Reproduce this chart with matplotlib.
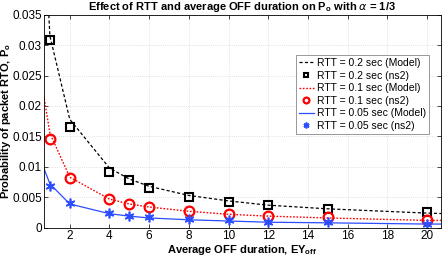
import matplotlib

matplotlib.use("Agg")
import matplotlib.pyplot as plt
from matplotlib.ticker import FixedLocator, FuncFormatter

plt.rcParams.update(
    {
        "font.family": ["Liberation Sans", "DejaVu Sans"],
        "mathtext.fontset": "custom",
        "mathtext.rm": "Liberation Sans",
        "mathtext.bf": "Liberation Sans:bold",
        "axes.linewidth": 0.6,
    }
)

# ns2 simulation points
x_sim = [1, 2, 4, 5, 6, 8, 10, 12, 15, 20]
sim_200 = [0.0308, 0.0165, 0.0092, 0.0078, 0.0065, 0.0051, 0.0043, 0.0037, 0.0031, 0.0025]
sim_100 = [0.0145, 0.0081, 0.0047, 0.0039, 0.0034, 0.0027, 0.0023, 0.0020, 0.0017, 0.0013]
sim_050 = [0.0069, 0.0040, 0.0024, 0.0020, 0.0017, 0.0014, 0.0012, 0.0010, 0.0009, 0.0006]

# model curves
x_model = [0.5, 1, 2, 4, 5, 6, 8, 10, 12, 15, 20, 21]
model_200 = [0.062, 0.0315, 0.0178, 0.0098, 0.0080, 0.0068, 0.0053, 0.0044, 0.0037, 0.0031, 0.0024, 0.0023]
model_100 = [0.0255, 0.0155, 0.0083, 0.0047, 0.0039, 0.0034, 0.0027, 0.0022, 0.0019, 0.0016, 0.0012, 0.0012]
model_050 = [0.0114, 0.0072, 0.0039, 0.0023, 0.0019, 0.0016, 0.0013, 0.0011, 0.0009, 0.0008, 0.0006, 0.0006]

x_ticks = [2, 4, 6, 8, 10, 12, 14, 16, 18, 20]
y_ticks = [0, 0.005, 0.01, 0.015, 0.02, 0.025, 0.03, 0.035]

BLUE = "#2b4cff"
ASTERISK = (6, 2, 0)

fig = plt.figure(figsize=(4.44, 2.57), dpi=100)
ax = fig.add_axes([0.099, 0.114, 0.894, 0.829])

ax.plot(x_model, model_200, color="black", lw=0.9, ls=(0, (2.5, 1.8)), label="RTT = 0.2 sec (Model)")
ax.plot(x_sim, sim_200, ls="none", marker="s", ms=6, mfc="none", mec="black", mew=1.5,
        label="RTT = 0.2 sec (ns2)")
ax.plot(x_model, model_100, color="red", lw=1.0, ls=(0, (1.2, 1.2)), label="RTT = 0.1 sec (Model)")
ax.plot(x_sim, sim_100, ls="none", marker="o", ms=7, mfc="none", mec="red", mew=1.6,
        label="RTT = 0.1 sec (ns2)")
ax.plot(x_model, model_050, color=BLUE, lw=0.9, ls="-", label="RTT = 0.05 sec (Model)")
ax.plot(x_sim, sim_050, ls="none", marker=ASTERISK, ms=7, mec=BLUE, mew=1.2,
        label="RTT = 0.05 sec (ns2)")

ax.set_xlim(0.7, 20.7)
ax.set_ylim(0, 0.035)
ax.xaxis.set_major_locator(FixedLocator(x_ticks))
ax.yaxis.set_major_locator(FixedLocator(y_ticks))
ax.yaxis.set_major_formatter(FuncFormatter(lambda v, _: "0" if v == 0 else f"{v:g}"))
ax.tick_params(direction="in", length=3, width=0.5, labelsize=8.5, top=True, right=True, pad=1.5)
ax.grid(True, color="#c8c8c8", ls=(0, (1, 2)), lw=0.5)

ax.set_title(r"Effect of RTT and average OFF duration on P$_\mathbf{o}$ with $\alpha$ = 1/3",
             fontsize=8, fontweight="bold", pad=3)
ax.set_xlabel(r"Average OFF duration, EY$_\mathbf{off}$", fontsize=8, fontweight="bold", labelpad=1)
ax.set_ylabel(r"Probability of packet RTO, P$_\mathbf{o}$", fontsize=8, fontweight="bold")
ax.yaxis.set_label_coords(-0.077, 0.5)

leg = ax.legend(loc="upper right", bbox_to_anchor=(0.970, 0.811), fontsize=7.5, fancybox=False,
                framealpha=1, edgecolor="#888888", handlelength=1.4, handletextpad=0.3,
                labelspacing=0.25, borderpad=0.3, borderaxespad=0, markerscale=0.6)
leg.get_frame().set_linewidth(0.6)

fig.savefig("out.png", dpi=100)
